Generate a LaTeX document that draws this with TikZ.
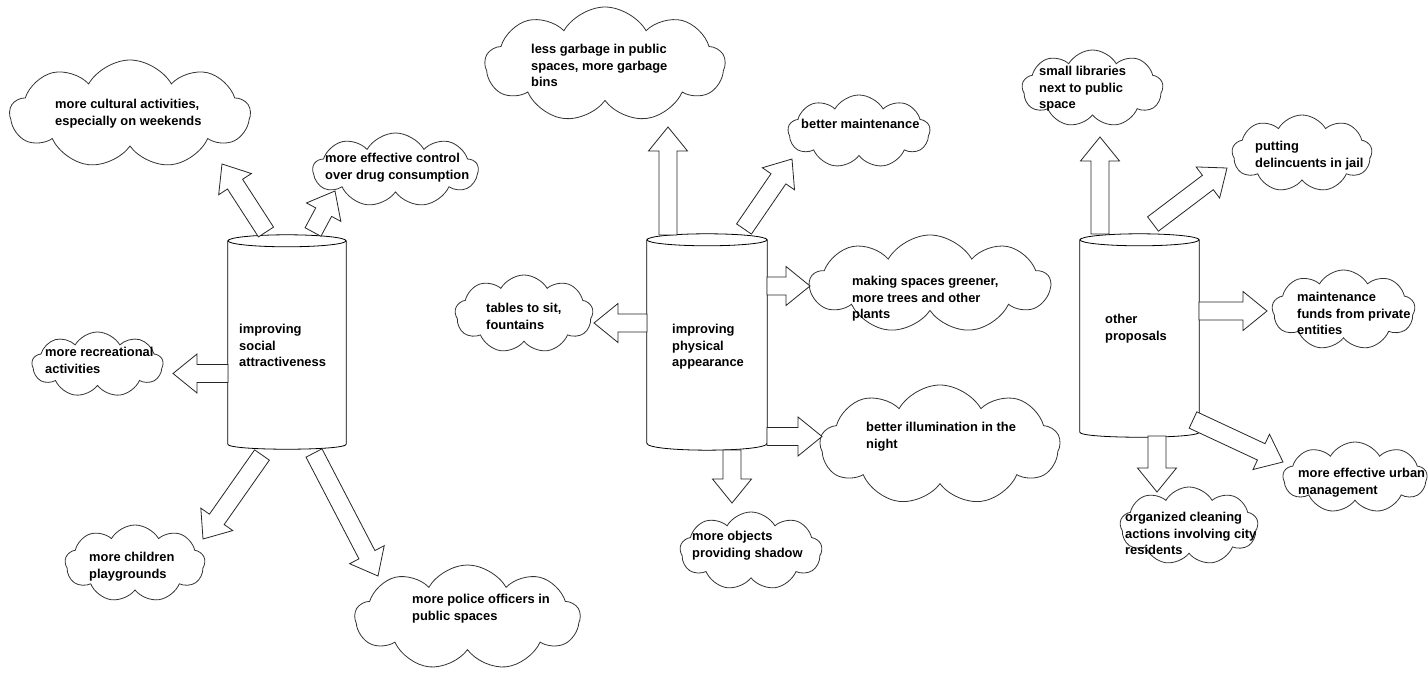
\documentclass[tikz,border=0pt]{standalone}
\usepackage{fontspec}
\setmainfont{Liberation Sans}
\usetikzlibrary{shapes.symbols,calc}
\tikzset{
  cloudbox/.style={cloud, cloud puffs=9, cloud puff arc=120, cloud ignores aspect,
    draw=black!80, line width=0.8pt, fill=white, inner sep=0pt},
  lbl/.style={font=\bfseries\fontsize{12.9}{16.5}\selectfont, align=left, inner sep=0pt, anchor=north west},
  cylline/.style={draw=black, line width=0.8pt, fill=white},
  cylbox/.style={rectangle, inner sep=0pt},
  barrow/.style={draw=black!85, line width=0.8pt, fill=white, line join=miter},
}
\newcommand\blockarrow[2]{%
  \coordinate (#1h) at ($(#2)!24pt!(#1)$);
  \draw[barrow] ($(#1)!9pt!90:(#2)$) -- ($(#1h)!9pt!90:(#2)$) -- ($(#1h)!19.5pt!90:(#2)$)
    -- (#2) -- ($(#1h)!19.5pt!-90:(#2)$) -- ($(#1h)!9pt!-90:(#2)$) -- ($(#1)!9pt!-90:(#2)$) -- cycle;
}
\newcommand\cylinderdraw[3]{%
  \draw[cylline] (#1.north west) -- (#1.south west) .. controls +(0,#3) and +(0,#3) .. (#1.south east) -- (#1.north east);
  \draw[cylline] (#1.north) ellipse [x radius=#2pt, y radius=6pt];
}
\begin{document}
\begin{tikzpicture}[x=1pt,y=-1pt]
\useasboundingbox[fill=white] (0,0) rectangle (1428,679);

% cylinders
\node[cylbox, minimum width=118pt, minimum height=203pt] (cyl1) at (287,342.5) {};
\node[cylbox, minimum width=120pt, minimum height=203pt] (cyl2) at (707,341.5) {};
\node[cylbox, minimum width=119pt, minimum height=192pt] (cyl3) at (1139.5,336) {};
\cylinderdraw{cyl1}{59}{6.7}
\cylinderdraw{cyl2}{60}{9.3}
\cylinderdraw{cyl3}{59.5}{6.7}

\node[lbl] (ct1) at (239,324) {improving\\social\\attractiveness};
\node[lbl] (ct2) at (672,324) {improving\\physical\\appearance};
\node[lbl] (ct3) at (1105,314) {other\\proposals};

% clouds
\node[cloudbox, minimum width=240pt, minimum height=108pt] (c1) at (130,114) {};
\node[cloudbox, minimum width=165pt, minimum height=74pt] (c2) at (395.5,170) {};
\node[cloudbox, minimum width=131pt, minimum height=65pt] (c3) at (97.5,364.5) {};
\node[cloudbox, minimum width=140pt, minimum height=77pt] (c4) at (135,563.5) {};
\node[cloudbox, minimum width=225pt, minimum height=105pt] (c5) at (467.5,617.5) {};
\node[cloudbox, minimum width=240pt, minimum height=115pt] (c6) at (605,64.5) {};
\node[cloudbox, minimum width=142pt, minimum height=73pt] (c7) at (859,131.5) {};
\node[cloudbox, minimum width=138pt, minimum height=78pt] (c8) at (524,314) {};
\node[cloudbox, minimum width=240pt, minimum height=98pt] (c9) at (930,284) {};
\node[cloudbox, minimum width=240pt, minimum height=120pt] (c10) at (940,445) {};
\node[cloudbox, minimum width=142pt, minimum height=78pt] (c11) at (751,551) {};
\node[cloudbox, minimum width=141pt, minimum height=77pt] (c12) at (1092.5,88.5) {};
\node[cloudbox, minimum width=140pt, minimum height=77pt] (c13) at (1302,153.5) {};
\node[cloudbox, minimum width=143pt, minimum height=80pt] (c14) at (1343.5,310) {};
\node[cloudbox, minimum width=144pt, minimum height=71pt] (c15) at (1355,477.5) {};
\node[cloudbox, minimum width=138pt, minimum height=78pt] (c16) at (1189,526) {};

% arrow end points
\coordinate (a1s) at (266,232);   \coordinate (a1e) at (222,164);
\coordinate (a2s) at (313,232);   \coordinate (a2e) at (335,191);
\coordinate (a3s) at (228,373.5); \coordinate (a3e) at (173,373.5);
\coordinate (a4s) at (262,455);   \coordinate (a4e) at (203,539);
\coordinate (a5s) at (314,453);   \coordinate (a5e) at (378,576);
\coordinate (b1s) at (668,235);   \coordinate (b1e) at (668,127);
\coordinate (b2s) at (744,229);   \coordinate (b2e) at (792,159);
\coordinate (b3s) at (767,286);   \coordinate (b3e) at (810,286);
\coordinate (b4s) at (647,323);   \coordinate (b4e) at (594,323);
\coordinate (b5s) at (767,436.5); \coordinate (b5e) at (822,436.5);
\coordinate (b6s) at (732,450);   \coordinate (b6e) at (732,503);
\coordinate (d1s) at (1100,234);  \coordinate (d1e) at (1100,137);
\coordinate (d2s) at (1153,224);  \coordinate (d2e) at (1227,168);
\coordinate (d3s) at (1199,311);  \coordinate (d3e) at (1267,311);
\coordinate (d4s) at (1157,436);  \coordinate (d4e) at (1157,492);
\coordinate (d5s) at (1193,420);  \coordinate (d5e) at (1283,462);

\blockarrow{a1s}{a1e}
\blockarrow{a2s}{a2e}
\blockarrow{a3s}{a3e}
\blockarrow{a4s}{a4e}
\blockarrow{a5s}{a5e}
\blockarrow{b1s}{b1e}
\blockarrow{b2s}{b2e}
\blockarrow{b3s}{b3e}
\blockarrow{b4s}{b4e}
\blockarrow{b5s}{b5e}
\blockarrow{b6s}{b6e}
\blockarrow{d1s}{d1e}
\blockarrow{d2s}{d2e}
\blockarrow{d3s}{d3e}
\blockarrow{d4s}{d4e}
\blockarrow{d5s}{d5e}

% texts
\node[lbl] (t1) at (55,99) {more cultural activities,\\especially on weekends};
\node[lbl] (t2) at (325,153) {more effective control\\over drug consumption};
\node[lbl] (t3) at (45,347) {more recreational\\activities};
\node[lbl] (t4) at (89,552) {more children\\playgrounds};
\node[lbl] (t5) at (412,594) {more police officers in\\public spaces};
\node[lbl] (t6) at (531,44) {less garbage in public\\spaces, more garbage\\bins};
\node[lbl] (t7) at (801,119) {better maintenance};
\node[lbl] (t8) at (486,303) {tables to sit,\\fountains};
\node[lbl] (t9) at (852,276) {making spaces greener,\\more trees and other\\plants};
\node[lbl] (t10) at (866,422) {better illumination in the\\night};
\node[lbl] (t11) at (692,531) {more objects\\providing shadow};
\node[lbl] (t12) at (1039,66) {small libraries\\next to public\\space};
\node[lbl] (t13) at (1255,141) {putting\\delincuents in jail};
\node[lbl] (t14) at (1297,292) {maintenance\\funds from private\\entities};
\node[lbl] (t15) at (1298,468) {more effective urban\\management};
\node[lbl] (t16) at (1125,512) {organized cleaning\\actions involving city\\residents};
\end{tikzpicture}
\end{document}
